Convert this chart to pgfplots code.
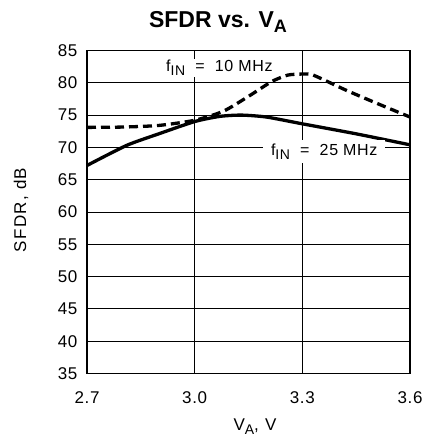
\documentclass[border=0pt]{standalone}
\usepackage{fontspec}
\setmainfont{Liberation Sans}
\usepackage{pgfplots}
\pgfplotsset{compat=1.18}
\usetikzlibrary{calc}
\newcommand{\sub}[2]{\raisebox{-#2}{\fontsize{#1}{#1}\selectfont IN}}
\begin{document}
\begin{tikzpicture}
\begin{axis}[
  scale only axis,
  width=323pt, height=323pt,
  xmin=2.7, xmax=3.6, ymin=35, ymax=85,
  xtick={2.7,3.0,3.3,3.6},
  xticklabels={2.7,3.0,3.3,3.6},
  ytick={35,40,...,85},
  grid=major,
  major grid style={black, line width=0.9pt},
  axis line style={black, line width=1.2pt},
  major tick length=0pt,
  /pgf/number format/assume math mode=true,
  tick label style={font=\fontsize{17}{19}\selectfont\addfontfeature{LetterSpace=4}},
  xticklabel style={anchor=base, yshift=-29.5pt},
  yticklabel style={anchor=east, xshift=-6pt},
  xlabel={V\raisebox{-4.5pt}{\fontsize{14}{14}\selectfont A}, V},
  ylabel={SFDR, dB},
  label style={font=\fontsize{17}{19}\selectfont\addfontfeature{LetterSpace=8}},
  xlabel style={at={(axis description cs:0.52,-0.165)}, anchor=center},
  ylabel style={at={(axis description cs:-0.204,0.506)}, anchor=center},
  clip=false,
]
\addplot[black, line width=3.3pt, dash pattern=on 9pt off 5pt, smooth, tension=0.4] coordinates {
  (2.7,73.1) (2.8,73.15) (2.9,73.4) (3.0,74.2) (3.08,75.6) (3.15,77.9)
  (3.215,80.2) (3.26,81.2) (3.3,81.35) (3.33,81.2) (3.42,78.9) (3.5,77.0) (3.6,74.7)
};
\addplot[black, line width=3.3pt, smooth, tension=0.4] coordinates {
  (2.7,67.2) (2.81,70.3) (2.9,72.1) (3.0,74.0) (3.07,74.8) (3.13,75.0)
  (3.2,74.7) (3.3,73.65) (3.45,72.1) (3.6,70.4)
};
\node[fill=white, anchor=base, inner xsep=3pt, inner ysep=1pt, font=\fontsize{16}{18}\selectfont\addfontfeature{LetterSpace=4}] at (axis cs:3.069,81.7) {f\raisebox{-4pt}{\fontsize{14}{14}\selectfont IN}\ \ =\ \ 10 MHz};
\node[fill=white, anchor=base, inner xsep=8pt, inner ysep=4pt, font=\fontsize{16}{18}\selectfont\addfontfeature{LetterSpace=4}] at (axis cs:3.361,68.75) {f\raisebox{-4pt}{\fontsize{14}{14}\selectfont IN}\ \ =\ \ 25 MHz};
\end{axis}
\node[anchor=base, font=\fontsize{23}{27}\selectfont\bfseries] at ($(current axis.north west)+(131pt,23pt)$) {SFDR vs. V\raisebox{-5pt}{\fontsize{18}{18}\selectfont\bfseries A}};
\path[draw=none] ($(current axis.south west)+(-87pt,-71.5pt)$) rectangle ($(current axis.north east)+(16pt,50.5pt)$);
\end{tikzpicture}
\end{document}
